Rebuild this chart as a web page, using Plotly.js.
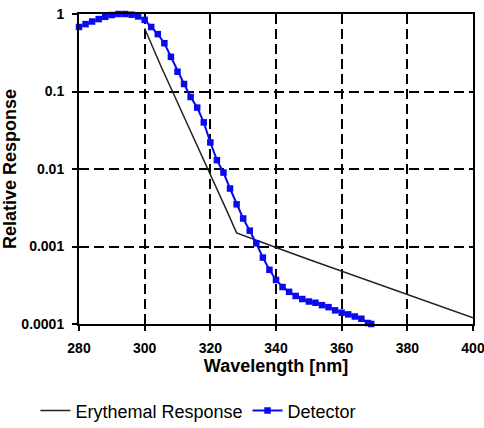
<!DOCTYPE html>
<html>
<head>
<meta charset="utf-8">
<script src="https://cdn.plot.ly/plotly-3.0.1.min.js"></script>
<style>html,body{margin:0;padding:0;background:#fff;}#chart{width:484px;height:428px;}</style>
</head>
<body>
<div id="chart"></div>
<script>
// Erythemal response (CIE action spectrum)
const eryWavelength = [300, 305, 310, 315, 320, 325, 328, 330, 340, 350, 360, 370, 380, 390, 400];
const eryResponse   = [0.65, 0.21, 0.072, 0.025, 0.0086, 0.0029, 0.0015, 0.0014, 0.00097, 0.00068, 0.00048, 0.00034, 0.00024, 0.00017, 0.00012];

// Detector response
const detWavelength = [280, 282, 284, 286, 288, 290, 292, 294, 296, 298, 300, 302, 304, 306, 308, 310, 312, 314, 316, 318, 320, 322, 324, 326, 328, 330, 332, 334, 336, 338, 340, 342, 344, 346, 348, 350, 352, 354, 356, 358, 360, 362, 364, 366, 368, 369];
const detResponse   = [0.68, 0.74, 0.80, 0.86, 0.92, 0.97, 1.0, 1.0, 0.98, 0.93, 0.84, 0.68, 0.55, 0.42, 0.28, 0.18, 0.125, 0.085, 0.062, 0.040, 0.022, 0.013, 0.0090, 0.0056, 0.0035, 0.0023, 0.0016, 0.0011, 0.00072, 0.00050, 0.00037, 0.00030, 0.00026, 0.00023, 0.00021, 0.000195, 0.000188, 0.000175, 0.000165, 0.00015, 0.00014, 0.000133, 0.000125, 0.000117, 0.000103, 0.0001];

const xTicks = [280, 300, 320, 340, 360, 380, 400];
const yTickVals = [1, 0.1, 0.01, 0.001, 0.0001];
const yTickText = ['1', '0.1', '0.01', '0.001', '0.0001'];

const traces = [
  {
    x: eryWavelength, y: eryResponse, type: 'scatter', mode: 'lines',
    name: 'Erythemal Response',
    line: {color: '#222222', width: 1.5}
  },
  {
    x: detWavelength, y: detResponse, type: 'scatter', mode: 'lines+markers',
    name: 'Detector',
    line: {color: '#0a0aee', width: 2},
    marker: {symbol: 'square', size: 6.5, color: '#0a0aee'},
    cliponaxis: false
  }
];

const fontFam = 'Arial, "Liberation Sans", sans-serif';
const layout = {
  width: 484, height: 428,
  margin: {l: 79, r: 11, t: 14, b: 104, autoexpand: false},
  paper_bgcolor: '#fff', plot_bgcolor: '#fff',
  font: {family: fontFam, color: '#000', size: 14},
  showlegend: true,
  legend: {orientation: 'h', xref: 'container', yref: 'container',
           x: 0.41, xanchor: 'center', y: 0.04, yanchor: 'middle',
           font: {size: 18, family: fontFam}, itemwidth: 30, tracegroupgap: 0},
  xaxis: {
    range: [280, 400], tickvals: xTicks, ticktext: xTicks.map(String),
    showgrid: true, gridcolor: '#000', gridwidth: 2, griddash: '10px,5px',
    showline: true, linecolor: '#000', linewidth: 2, mirror: true,
    ticks: 'outside', ticklen: 5, tickwidth: 2, tickcolor: '#000',
    zeroline: false, automargin: false, ticklabeloverflow: 'allow',
    ticklabelstandoff: 5,
    tickfont: {size: 14, family: fontFam, weight: 'bold'},
    title: {text: 'Wavelength [nm]', font: {size: 18, family: fontFam, weight: 'bold'}, standoff: 4}
  },
  yaxis: {
    type: 'log', range: [-4, 0], tickvals: yTickVals, ticktext: yTickText,
    showgrid: true, gridcolor: '#000', gridwidth: 2, griddash: '10px,5px',
    showline: true, linecolor: '#000', linewidth: 2, mirror: true,
    ticks: 'outside', ticklen: 5, tickwidth: 2, tickcolor: '#000',
    zeroline: false, automargin: true, ticklabelstandoff: 5,
    tickfont: {size: 14, family: fontFam, weight: 'bold'},
    title: {text: 'Relative Response', font: {size: 18, family: fontFam, weight: 'bold'}, standoff: 3}
  }
};

Plotly.newPlot('chart', traces, layout, {displayModeBar: false, staticPlot: true});
</script>
</body>
</html>
